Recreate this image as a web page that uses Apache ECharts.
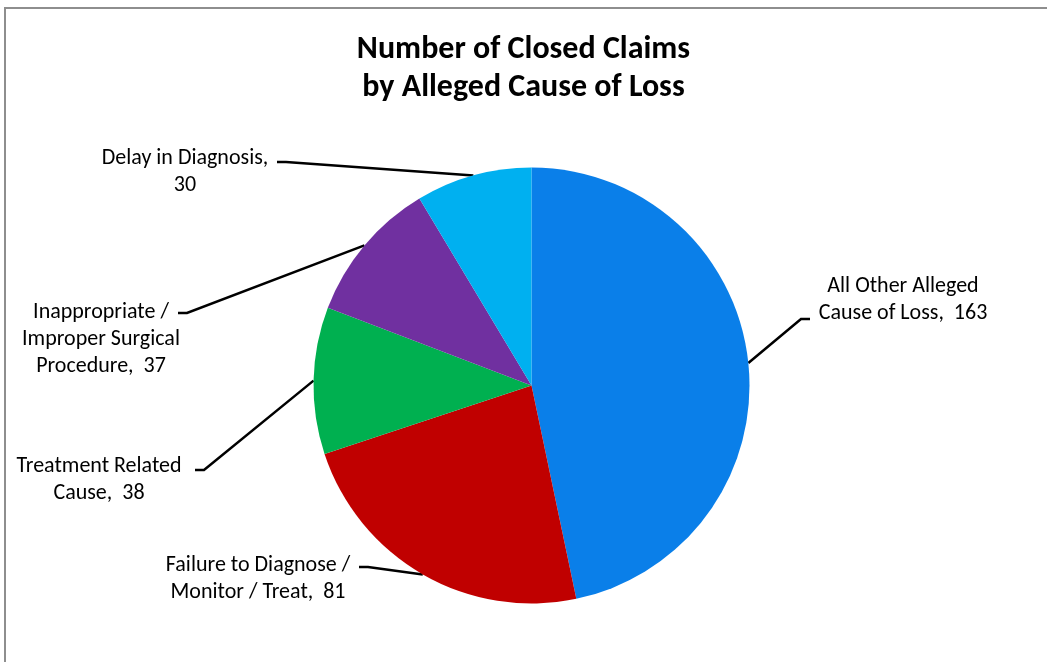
<!DOCTYPE html>
<html>
<head>
<meta charset="utf-8">
<script src="https://cdn.jsdelivr.net/npm/echarts@6/dist/echarts.min.js"></script>
<style>
  html, body { margin: 0; padding: 0; background: #fff; }
  #chart { width: 1047px; height: 662px; }
</style>
</head>
<body>
<div id="chart"></div>
<script>
// data
const categories = [
  'All Other Alleged\nCause of Loss',
  'Failure to Diagnose /\nMonitor / Treat',
  'Treatment Related\nCause',
  'Inappropriate /\nImproper Surgical\nProcedure',
  'Delay in Diagnosis'
]
const values = [163, 81, 38, 37, 30]
const colors = ['#0A7FE9', '#C00000', '#00B050', '#7030A0', '#00B0F0']

// where each label sits (text centre x, first line centre y) and where its leader line meets it
const labelSpots = [
  { cx: 903, y: 286, ax: 810, ay: 319, side: 1 },
  { cx: 258, y: 565, ax: 359, ay: 567, side: -1 },
  { cx: 99, y: 466, ax: 195, ay: 470, side: -1 },
  { cx: 101, y: 312, ax: 178, ay: 313, side: -1 },
  { cx: 185, y: 158, ax: 277, ay: 162, side: -1 }
]
const LINE_H = 27

const chart = echarts.init(document.getElementById('chart'))

const option = {
  animation: false,
  backgroundColor: '#fff',
  graphic: [{
    type: 'rect',
    shape: { x: 5, y: 8, width: 1100, height: 700 },
    style: { fill: 'none', stroke: '#8E8E8E', lineWidth: 2 },
    silent: true
  }],
  title: {
    text: 'Number of Closed Claims\nby Alleged Cause of Loss',
    left: 'center',
    top: 26,
    textStyle: {
      fontFamily: 'Carlito, Lato',
      fontSize: 32,
      fontWeight: 'bold',
      lineHeight: 38,
      color: '#000'
    }
  },
  series: [{
    type: 'pie',
    center: [531.5, 385.5],
    radius: 218,
    startAngle: 90,
    clockwise: true,
    silent: true,
    data: categories.map((name, i) => ({
      name,
      value: values[i],
      itemStyle: { color: colors[i] }
    })),
    label: {
      show: true,
      position: 'outside',
      formatter: p => p.name + (p.dataIndex === 4 ? ',\n' : ',  ') + p.value,
      fontFamily: 'Carlito, Lato',
      fontSize: 22,
      lineHeight: LINE_H,
      color: '#000',
      align: 'center'
    },
    labelLine: {
      show: true,
      length: 20,
      length2: 10,
      lineStyle: { color: '#000', width: 2.5 }
    },
    labelLayout: params => {
      const s = labelSpots[params.dataIndex]
      const start = params.labelLinePoints ? params.labelLinePoints[0] : [s.ax, s.ay]
      return {
        x: s.cx,
        y: s.y - LINE_H / 2,
        align: 'center',
        verticalAlign: 'top',
        labelLinePoints: [
          start,
          [s.ax - 9 * s.side, s.ay],
          [s.ax, s.ay]
        ]
      }
    }
  }]
}

chart.setOption(option)
</script>
</body>
</html>
